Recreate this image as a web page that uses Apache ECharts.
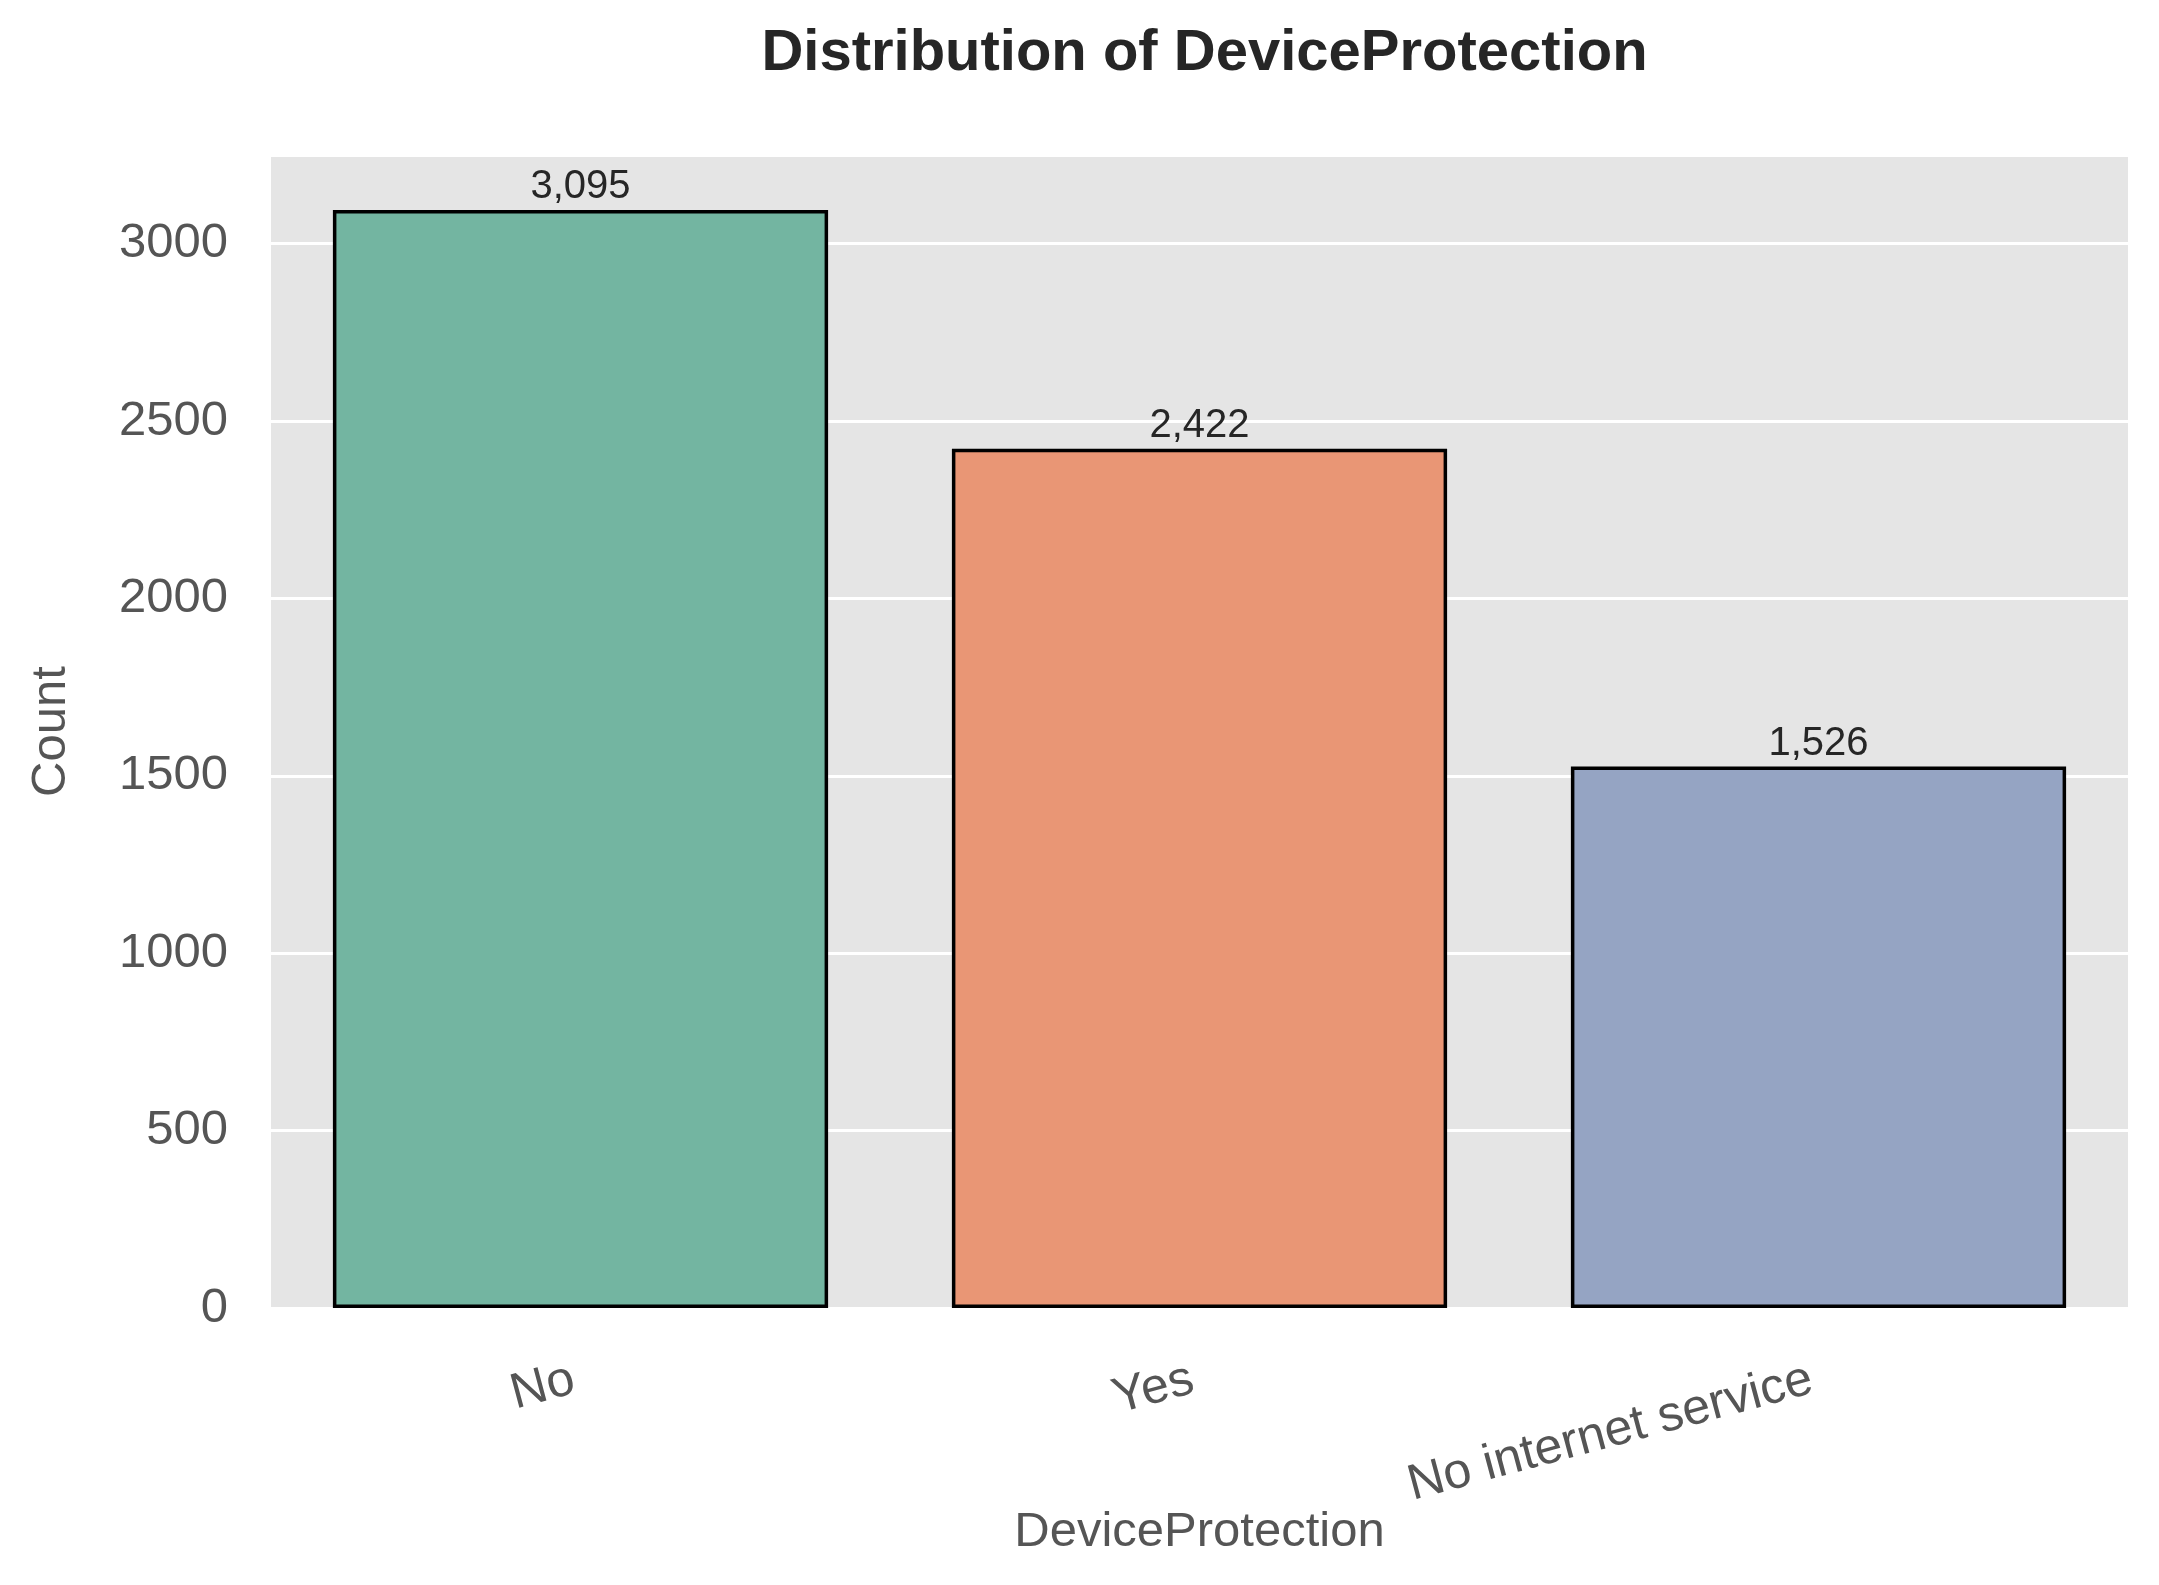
<!DOCTYPE html>
<html>
<head>
<meta charset="utf-8">
<script src="https://cdn.jsdelivr.net/npm/echarts@6/dist/echarts.min.js"></script>
<style>
html,body{margin:0;padding:0;background:#fff;}
#chart{width:2159px;height:1585px;}
</style>
</head>
<body>
<div id="chart"></div>
<script>
const categories = ["No", "Yes", "No internet service"];
const counts = [3095, 2422, 1526];
const barColors = ["#73B5A1", "#E99675", "#95A4C3"];
const yTicks = [0, 500, 1000, 1500, 2000, 2500, 3000];

const FONT = '"Liberation Sans", Arial, sans-serif';
const chart = echarts.init(document.getElementById('chart'), null, {renderer: 'canvas'});

chart.setOption({
  animation: false,
  backgroundColor: '#ffffff',
  title: {
    text: 'Distribution of DeviceProtection',
    left: 1199.5,
    top: 20,
    textAlign: 'center',
    textStyle: {fontFamily: FONT, fontSize: 58, fontWeight: 'bold', color: '#262626'}
  },
  grid: {
    left: 271, right: 31, top: 155, bottom: 277,
    show: true, backgroundColor: '#E5E5E5', borderWidth: 0,
    containLabel: false
  },
  xAxis: {
    type: 'category',
    data: categories,
    name: 'DeviceProtection',
    nameLocation: 'middle',
    nameGap: 200,
    nameMoveOverlap: false,
    nameTextStyle: {fontFamily: FONT, fontSize: 49, color: '#555555'},
    axisLine: {show: false},
    axisTick: {show: false},
    splitLine: {show: false},
    axisLabel: {
      interval: 0,
      rotate: 15,
      margin: 69,
      padding: [0, 7, 0, 0],
      fontFamily: FONT, fontSize: 50, color: '#555555'
    }
  },
  yAxis: {
    type: 'value',
    min: 0,
    max: counts[0] * 1.05,
    interval: 500,
    name: 'Count',
    nameLocation: 'middle',
    nameGap: 195,
    nameMoveOverlap: false,
    nameTextStyle: {fontFamily: FONT, fontSize: 49, color: '#555555'},
    axisLine: {show: false},
    axisTick: {show: false},
    axisLabel: {
      margin: 43,
      showMaxLabel: false,
      fontFamily: FONT, fontSize: 49, color: '#555555',
      formatter: function (v) { return yTicks.indexOf(v) >= 0 ? String(v) : ''; }
    },
    splitLine: {show: true, lineStyle: {color: '#ffffff', width: 3}}
  },
  series: [{
    type: 'bar',
    barWidth: '80%',
    data: counts.map((v, i) => ({
      value: v,
      itemStyle: {color: barColors[i], borderColor: '#000000', borderWidth: 3.5}
    })),
    label: {
      show: true,
      position: 'top',
      distance: 3,
      fontFamily: FONT, fontSize: 40, color: '#262626',
      formatter: p => p.value.toLocaleString('en-US')
    }
  }]
});
</script>
</body>
</html>
